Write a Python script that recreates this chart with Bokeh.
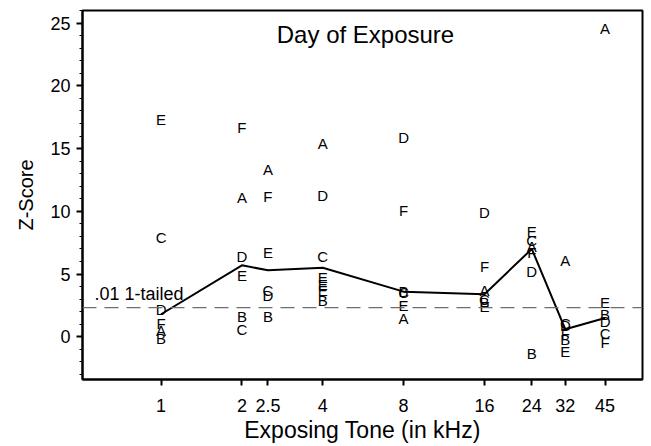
from bokeh.plotting import figure
from bokeh.models import ColumnDataSource, FixedTicker, Span, Label, Range1d
from bokeh.core.properties import value
from bokeh.embed import file_html
from bokeh.resources import INLINE

# Tone frequencies (kHz)
freqs = [1, 2, 2.5, 4, 8, 16, 24, 32, 45]
tick_labels = ["1", "2", "2.5", "4", "8", "16", "24", "32", "45"]

# Individual subject z-scores (letter, frequency, value)
pt_freq = [1, 1, 1, 1, 1, 1,
           2, 2, 2, 2, 2, 2,
           2.5, 2.5, 2.5, 2.5, 2.5, 2.5,
           4, 4, 4, 4, 4, 4, 4,
           8, 8, 8, 8, 8, 8,
           16, 16, 16, 16, 16, 16,
           24, 24, 24, 24, 24, 24,
           32, 32, 32, 32, 32, 32,
           45, 45, 45, 45, 45, 45]
pt_letter = ["E", "C", "D", "F", "A", "B",
             "F", "A", "D", "E", "B", "C",
             "A", "F", "E", "C", "D", "B",
             "A", "D", "C", "E", "E", "E", "B",
             "D", "F", "B", "C", "E", "A",
             "D", "F", "A", "C", "B", "E",
             "E", "C", "A", "F", "D", "B",
             "A", "C", "D", "F", "B", "E",
             "A", "E", "B", "D", "C", "F"]
pt_value = [17.3, 7.9, 2.2, 1.1, 0.5, -0.1,
            16.7, 11.1, 6.4, 4.9, 1.6, 0.6,
            13.3, 11.2, 6.7, 3.7, 3.3, 1.6,
            15.4, 11.3, 6.4, 4.7, 4.2, 3.7, 2.9,
            15.9, 10.1, 3.6, 3.5, 2.5, 1.5,
            9.9, 5.6, 3.7, 3.0, 2.7, 2.4,
            8.4, 7.7, 7.2, 6.7, 5.2, -1.3,
            6.1, 1.1, 0.9, 0.3, -0.2, -1.2,
            24.6, 2.7, 1.75, 1.2, 0.3, -0.45]

# Median line
median_value = [1.8, 5.7, 5.3, 5.5, 3.6, 3.4, 7.0, 0.6, 1.5]

threshold = 2.33
threshold_label = ".01 1-tailed"

FONT = "Liberation Sans"

p = figure(width=651, height=446, x_axis_type="log",
           x_range=Range1d(0.51, 62), y_range=Range1d(-3.4, 26),
           output_backend="svg", toolbar_location=None,
           min_border_left=82, min_border_right=9,
           min_border_top=10, min_border_bottom=67)
p.xgrid.visible = False
p.ygrid.visible = False
p.outline_line_color = "black"
p.outline_line_width = 2
p.outline_line_alpha = 1

# threshold dashed line
p.add_layout(Span(location=threshold, dimension="width", line_color="#6e6e6e",
                  line_width=1.2, line_dash="14 8"))
p.add_layout(Label(x=0.565, y=threshold, text=threshold_label, y_offset=4,
                   text_font=FONT, text_font_size="18px", text_color="black",
                   text_baseline="bottom"))

# median line
p.line(freqs, median_value, line_color="black", line_width=2)

src = ColumnDataSource(dict(x=pt_freq, y=pt_value, t=pt_letter))
p.text(x="x", y="y", text="t", source=src, text_align="center",
       text_baseline="middle", text_font=value(FONT), text_font_size="15px",
       text_color="black")

# in-plot title (screen units relative to the frame)
p.add_layout(Label(x=283, y=345, x_units="screen", y_units="screen",
                   text="Day of Exposure", text_align="center",
                   text_baseline="middle", text_font=FONT,
                   text_font_size="24px", text_color="black"))

# axes
xa = p.xaxis[0]
xa.ticker = FixedTicker(ticks=freqs, minor_ticks=[])
xa.major_label_overrides = {f: l for f, l in zip(freqs, tick_labels)}
xa.axis_label = "Exposing Tone (in kHz)"
xa.axis_label_text_font = FONT
xa.axis_label_text_font_size = "23px"
xa.axis_label_text_font_style = "normal"
xa.axis_label_text_color = "black"
xa.axis_label_standoff = 2
xa.major_label_text_font = FONT
xa.major_label_text_font_size = "18px"
xa.major_label_text_color = "black"
xa.major_label_standoff = 13
xa.major_tick_out = 6
xa.major_tick_in = 0
xa.major_tick_line_width = 2
xa.axis_line_width = 2
xa.minor_tick_line_color = None

ya = p.yaxis[0]
ya.ticker = FixedTicker(ticks=[0, 5, 10, 15, 20, 25],
                        minor_ticks=[-3, -2, -1, 1, 2, 3, 4, 6, 7, 8, 9, 11, 12, 13, 14,
                                     16, 17, 18, 19, 21, 22, 23, 24, 26])
ya.axis_label = "Z-Score"
ya.axis_label_text_font = FONT
ya.axis_label_text_font_size = "20px"
ya.axis_label_text_font_style = "normal"
ya.axis_label_text_color = "black"
ya.axis_label_standoff = 10
ya.major_label_text_font = FONT
ya.major_label_text_font_size = "18px"
ya.major_label_text_color = "black"
ya.major_label_standoff = 6
ya.major_tick_out = 6
ya.major_tick_in = 0
ya.minor_tick_out = 3
ya.minor_tick_in = 0
ya.major_tick_line_width = 2
ya.axis_line_width = 2

open("out.html", "w").write(file_html(p, INLINE))
